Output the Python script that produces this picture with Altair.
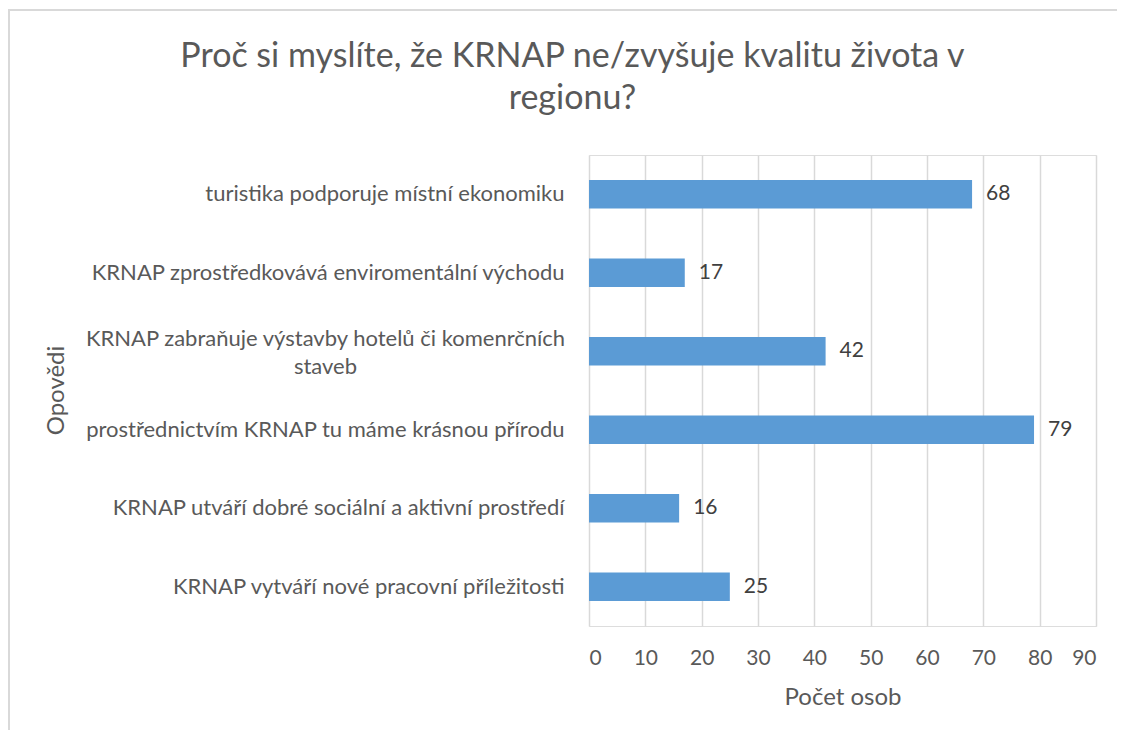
import altair as alt
import pandas as pd

categories = [
    "turistika podporuje místní ekonomiku",
    "KRNAP zprostředkovává enviromentální východu",
    "KRNAP zabraňuje výstavby hotelů či komenrčních|staveb",
    "prostřednictvím KRNAP tu máme krásnou přírodu",
    "KRNAP utváří dobré sociální a aktivní prostředí",
    "KRNAP vytváří nové pracovní příležitosti",
]
values = [68, 17, 42, 79, 16, 25]
x_ticks = [0, 10, 20, 30, 40, 50, 60, 70, 80, 90]

df = pd.DataFrame({"cat": categories, "val": values})

FONT = "Lato"
TXT = "#595959"
WRAPPED = categories[2]
is_wrapped = f"datum.value == '{WRAPPED}'"

y_enc = alt.Y(
    "cat:N",
    sort=categories,
    scale=alt.Scale(paddingInner=0.64, paddingOuter=0.32),
    axis=alt.Axis(
        title="Opovědi",
        labelExpr="split(datum.label, '|')",
        labelFontSize=22,
        labelColor=TXT,
        labelFont=FONT,
        labelAlign={"condition": {"test": is_wrapped, "value": "center"}, "value": "right"},
        labelPadding={"condition": {"test": is_wrapped, "value": 264}, "value": 25},
        labelOffset={"condition": {"test": is_wrapped, "value": -12}, "value": 0},
        labelLimit=600,
        labelLineHeight=28,
        domain=False,
        ticks=False,
        grid=False,
        titleFont=FONT,
        titleFontSize=24,
        titleFontWeight="normal",
        titleColor=TXT,
        titleX=-533,
        titleY=235,
        titleBaseline="middle",
    ),
)

x_enc = alt.X(
    "val:Q",
    scale=alt.Scale(domain=[0, 90], nice=False),
    axis=alt.Axis(
        title="Počet osob",
        values=x_ticks,
        labelFontSize=21,
        labelColor=TXT,
        labelFont=FONT,
        labelPadding=21,
        domain=False,
        ticks=False,
        grid=True,
        gridColor="#d9d9d9",
        gridWidth=1.5,
        titleFont=FONT,
        titleFontSize=24,
        titleFontWeight="normal",
        titleColor=TXT,
        titlePadding=17,
    ),
)

bars = alt.Chart(df).mark_bar(color="#5b9bd5").encode(x=x_enc, y=y_enc)
labels = alt.Chart(df).mark_text(
    align="left", baseline="middle", dx=14, fontSize=21, font=FONT, color="#404040"
).encode(x="val:Q", y=alt.Y("cat:N", sort=categories), text="val:Q")

border_top = alt.Chart(df).mark_rule(color="#d9d9d9", strokeWidth=2).encode(
    x=alt.value(-581), x2=alt.value(560), y=alt.value(-145)
)
border_left = alt.Chart(df).mark_rule(color="#d9d9d9", strokeWidth=2).encode(
    x=alt.value(-580), y=alt.value(-145), y2=alt.value(600)
)

chart = (
    alt.layer(bars, labels, border_top, border_left)
    .properties(
        width=507,
        height=471,
        autosize=alt.AutoSizeParams(type="none"),
        padding={"left": 581, "top": 147, "right": 21, "bottom": 104},
        title=alt.TitleParams(
            text=["Proč si myslíte, že KRNAP ne/zvyšuje kvalitu života v", "regionu?"],
            font=FONT,
            fontSize=34,
            fontWeight="normal",
            color=TXT,
            anchor="middle",
            frame="group",
            baseline="alphabetic",
            dx=-270,
            dy=134,
            lineHeight=42,
            offset=0,
        ),
    )
    .configure_view(stroke=None)
    .configure(background="white")
)

chart.save("out.html", embed_options={"renderer": "svg", "actions": False})
